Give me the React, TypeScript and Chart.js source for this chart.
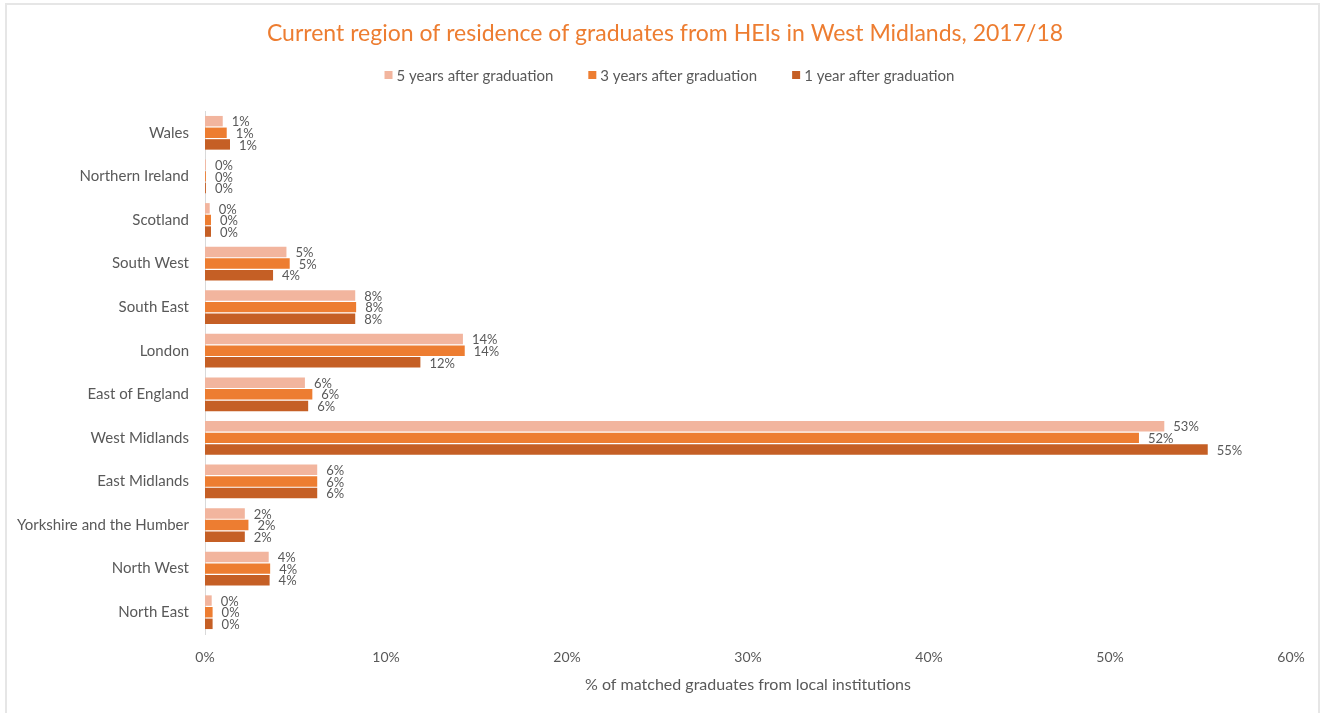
import React, { useEffect, useRef } from 'react';
import { Chart, registerables } from 'chart.js';

Chart.register(...registerables);

const titleText = 'Current region of residence of graduates from HEIs in West Midlands, 2017/18';
const axisTitle = '% of matched graduates from local institutions';

const regions = [
  'Wales',
  'Northern Ireland',
  'Scotland',
  'South West',
  'South East',
  'London',
  'East of England',
  'West Midlands',
  'East Midlands',
  'Yorkshire and the Humber',
  'North West',
  'North East',
];

const seriesLabels = ['5 years after graduation', '3 years after graduation', '1 year after graduation'];
const seriesColors = ['#F2B59E', '#ED7D31', '#C55F25'];

const fiveYears = [0.98, 0.05, 0.26, 4.5, 8.3, 14.25, 5.52, 53.0, 6.2, 2.2, 3.52, 0.37];
const threeYears = [1.2, 0.05, 0.33, 4.68, 8.35, 14.35, 5.93, 51.6, 6.2, 2.4, 3.6, 0.42];
const oneYear = [1.38, 0.05, 0.33, 3.76, 8.3, 11.9, 5.7, 55.4, 6.2, 2.2, 3.57, 0.42];

const xTicks = [0, 10, 20, 30, 40, 50, 60];

const FONT = 'Lato, "Open Sans", sans-serif';
const GREY = '#595959';

const valueLabelPlugin = {
  id: 'valueLabels',
  afterDatasetsDraw(chart: any) {
    const ctx = chart.ctx;
    ctx.save();
    ctx.font = `13px ${FONT}`;
    ctx.fillStyle = GREY;
    ctx.textAlign = 'left';
    ctx.textBaseline = 'middle';
    chart.data.datasets.forEach((ds: any, di: number) => {
      const meta = chart.getDatasetMeta(di);
      meta.data.forEach((el: any, i: number) => {
        const v = ds.data[i];
        ctx.fillText(`${Math.round(v)}%`, el.x + 9, el.y + 1);
      });
    });
    ctx.restore();
  },
};

const headerPlugin = {
  id: 'header',
  afterDraw(chart: any) {
    const ctx = chart.ctx;
    ctx.save();
    // title
    ctx.font = `23px ${FONT}`;
    ctx.fillStyle = '#ED7D31';
    ctx.textAlign = 'center';
    ctx.textBaseline = 'middle';
    ctx.fillText(titleText, 665, 34);
    // legend
    ctx.font = `15px ${FONT}`;
    ctx.textAlign = 'left';
    const box = 8;
    const gapBoxText = 4;
    const gapItems = 35;
    const items = chart.data.datasets.map((ds: any) => ({
      label: ds.label,
      color: ds.backgroundColor,
      w: box + gapBoxText + ctx.measureText(ds.label).width,
    }));
    const total = items.reduce((a: number, it: any) => a + it.w, 0) + gapItems * (items.length - 1);
    let x = 669.5 - total / 2;
    const y = 75;
    items.forEach((it: any) => {
      ctx.fillStyle = it.color;
      ctx.fillRect(x, y - box / 2, box, box);
      ctx.fillStyle = GREY;
      ctx.fillText(it.label, x + box + gapBoxText, y + 1);
      x += it.w + gapItems;
    });
    ctx.restore();
  },
};

export default function App() {
  const ref = useRef<HTMLCanvasElement | null>(null);

  useEffect(() => {
    document.body.style.margin = '0';
    const canvas = ref.current;
    if (!canvas) return;
    const chart = new Chart(canvas, {
      type: 'bar',
      data: {
        labels: regions,
        datasets: [
          { label: seriesLabels[0], data: fiveYears, backgroundColor: seriesColors[0] },
          { label: seriesLabels[1], data: threeYears, backgroundColor: seriesColors[1] },
          { label: seriesLabels[2], data: oneYear, backgroundColor: seriesColors[2] },
        ],
      },
      options: {
        indexAxis: 'y',
        animation: false,
        responsive: false,
        maintainAspectRatio: false,
        layout: { padding: { left: 0, right: 37, top: 111, bottom: 0 } },
        datasets: {
          bar: { categoryPercentage: 0.8, barPercentage: 0.9 },
        },
        plugins: {
          legend: { display: false },
          tooltip: { enabled: false },
          title: { display: false },
        },
        scales: {
          x: {
            min: 0,
            max: 60,
            afterBuildTicks: (scale: any) => {
              scale.ticks = xTicks.map((v) => ({ value: v }));
            },
            afterFit: (scale: any) => {
              scale.height = 79;
            },
            grid: { display: false, drawTicks: false },
            border: { display: false },
            ticks: {
              color: GREY,
              font: { family: FONT, size: 14 },
              padding: 15,
              callback: (v: any) => `${v}%`,
            },
            title: {
              display: true,
              text: axisTitle,
              color: GREY,
              font: { family: FONT, size: 16 },
              padding: { top: 4, bottom: 19 },
            },
          },
          y: {
            afterFit: (scale: any) => {
              scale.width = 205;
            },
            grid: { display: false, drawTicks: false },
            border: { display: true, color: '#D9D9D9', width: 1 },
            ticks: {
              color: GREY,
              font: { family: FONT, size: 15 },
              padding: 16,
            },
          },
        },
      },
      plugins: [valueLabelPlugin, headerPlugin],
    });
    return () => chart.destroy();
  }, []);

  return (
    <div style={{ position: 'relative', width: 1328, height: 713, background: '#fff', overflow: 'hidden' }}>
      <canvas ref={ref} width={1328} height={713} style={{ position: 'absolute', left: 0, top: 0 }} />
      <div
        style={{
          position: 'absolute',
          left: 5,
          top: 3,
          width: 1315,
          height: 740,
          border: '2px solid #E6E6E6',
          boxSizing: 'border-box',
          pointerEvents: 'none',
        }}
      />
    </div>
  );
}
